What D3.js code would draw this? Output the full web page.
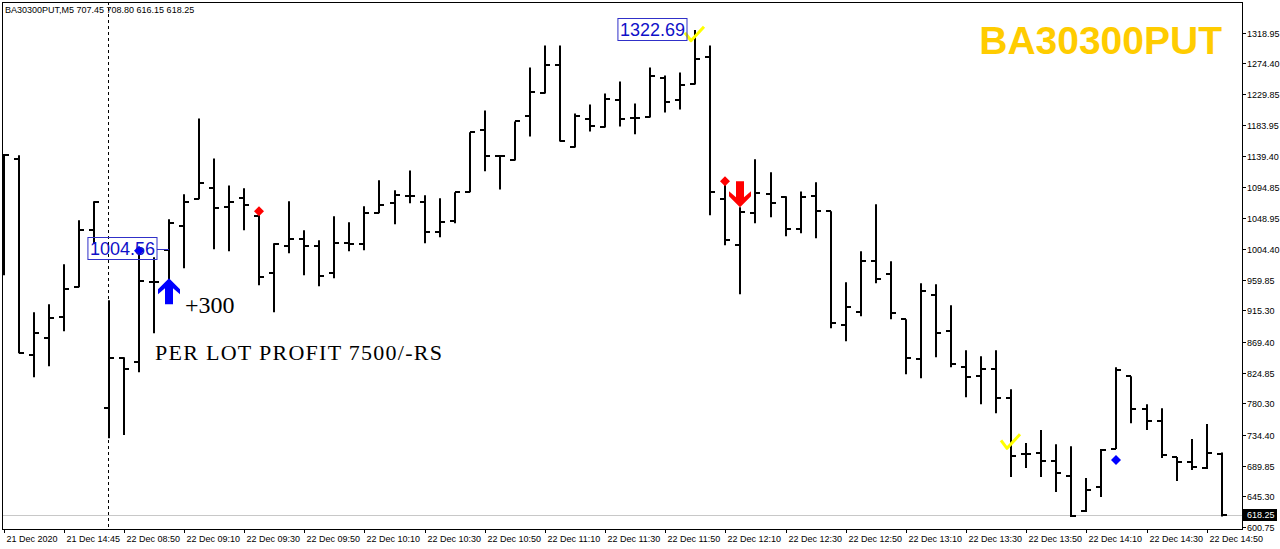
<!DOCTYPE html>
<html><head><meta charset="utf-8">
<script src="https://cdn.jsdelivr.net/npm/d3@7"></script>
<style>html,body{margin:0;padding:0;background:#fff;}svg{display:block;}</style>
</head><body>
<svg id="c" width="1280" height="549"></svg>
<script>
const symbol = "BA30300PUT";
const headerText = "BA30300PUT,M5  707.45 708.80 616.15 618.25";
const opens = [1140.5,1134.7,850.3,874.9,905.4,948.9,1031.7,773.4,845.9,840.1,
956.2,1002.6,1037.5,1076.6,1092.6,1065.0,1078.1,1052.0,969.3,1008.4,
1018.6,1008.4,969.3,1012.8,1011.3,1056.3,1070.8,1081.0,1072.3,1028.8,
1044.7,1086.8,1176.8,1139.0,1133.2,1197.1,1230.4,1271.1,1152.1,1192.7,
1181.1,1220.3,1194.2,1195.6,1252.2,1220.3,1243.5,1282.7,1076.6,1009.9,
1056.3,1083.9,1079.5,1033.1,1081.0,1059.2,893.8,912.7,986.7,967.8,
902.5,844.5,937.3,885.1,832.9,819.8,830.0,787.9,706.6,708.1,
696.5,674.7,623.9,658.7,713.9,819.8,771.9,754.5,702.3,695.0,
686.3,707.45];
const highs = [1140.5,1140.5,912.7,924.3,982.3,1046.2,1073.7,930.1,847.4,1002.0,
992.5,1047.6,1083.9,1194.2,1136.1,1096.9,1092.6,1057.8,1012.8,1073.7,
1031.7,1017.1,1052.0,1043.3,1066.5,1104.2,1089.7,1118.7,1082.4,1078.1,
1086.8,1173.9,1205.8,1140.5,1189.8,1268.2,1300.1,1300.1,1201.4,1214.5,
1230.4,1247.9,1215.9,1268.2,1256.6,1260.9,1322.69,1300.1,1099.9,1065.0,
1134.7,1115.8,1081.0,1088.2,1101.3,1059.2,956.2,1001.2,1069.4,986.7,
902.5,954.8,953.3,922.8,857.5,848.8,857.5,800.9,722.6,741.5,
721.1,718.2,671.8,713.9,832.9,819.8,779.2,773.4,702.3,728.4,
750.2,708.80];
const lows = [966.4,853.2,818.4,834.3,885.1,948.9,1012.0,729.8,734.2,825.6,
882.2,951.8,976.5,1076.6,1004.1,1001.2,1031.7,951.8,912.7,998.3,
966.4,950.4,962.0,1001.2,1002.6,1056.3,1040.4,1070.8,1012.8,1021.5,
1041.8,1086.8,1117.3,1091.1,1133.2,1168.0,1230.4,1160.8,1152.1,1175.3,
1181.1,1182.6,1171.0,1195.6,1202.9,1207.2,1243.5,1053.4,1009.9,938.8,
1041.8,1050.5,1022.9,1027.3,1020.0,889.5,870.6,906.9,954.8,902.5,
822.7,816.9,847.4,832.9,789.3,779.2,766.1,673.3,686.3,673.3,
651.5,615.2,622.5,644.2,713.9,751.6,741.5,700.8,667.5,683.4,
684.9,616.15];
const closes = [1140.5,853.2,882.2,904.0,946.0,1031.7,1072.3,845.9,830.0,957.7,
956.2,1041.8,1072.3,1099.9,1063.6,1072.3,1067.9,963.5,1011.3,1018.6,
1008.4,964.9,1012.8,1011.3,1056.3,1067.9,1082.4,1081.0,1028.8,1043.3,
1086.8,1173.9,1139.0,1139.0,1189.8,1231.9,1271.1,1160.8,1197.1,1182.6,
1221.7,1192.7,1194.2,1255.1,1217.4,1242.0,1279.8,1086.8,1017.1,1057.8,
1085.3,1070.8,1033.1,1079.5,1059.2,896.7,919.9,986.7,960.6,911.2,
845.9,943.1,882.2,837.2,818.4,830.0,787.9,703.7,706.6,696.5,
679.1,616.7,654.4,712.4,828.5,771.9,754.5,705.2,695.0,687.8,
708.1,618.25];
const timeLabels = ["21 Dec 2020","21 Dec 14:45","22 Dec 08:50","22 Dec 09:10","22 Dec 09:30","22 Dec 09:50","22 Dec 10:10","22 Dec 10:30","22 Dec 10:50","22 Dec 11:10","22 Dec 11:30","22 Dec 11:50","22 Dec 12:10","22 Dec 12:30","22 Dec 12:50","22 Dec 13:10","22 Dec 13:30","22 Dec 13:50","22 Dec 14:10","22 Dec 14:30","22 Dec 14:50"];
const timeLabelBars = [0,4,8,12,16,20,24,28,32,36,40,44,48,52,56,60,64,68,72,76,80];
const priceTicks = ["1318.95","1274.40","1229.85","1183.95","1139.40","1094.85","1048.95","1004.40","959.85","915.30","869.40","824.85","780.30","734.40","689.85","645.30","600.75"];
const lastPrice = 618.25;
const separatorBar = 6.95;
const diamondBars = [9, 17, 48, 74];
const diamondPrices = [1002.0, 1059.2, 1102.8, 697.9];
const diamondColors = ["#0000ff","#ff0000","#ff0000","#0000ff"];
const arrowBars = [11, 49];
const arrowPrices = [962, 1065];
const arrowDirs = ["up","down"];
const checkBars = [46, 67];
const checkPrices = [1307, 715];
const priceLabelText = ["1004.56","1322.69"];
const priceLabelValues = [1004.56, 1322.69];
const priceLabelBars = [9, 46];
const notes = ["+300", "PER LOT PROFIT 7500/-RS"];

const svg = d3.select("#c");
const L = 2, T = 2, R = 1242, B = 529;
const x = d3.scaleLinear().domain([0, 81]).range([3.5, 1221.7]);
const y = d3.scaleLinear().domain([600.75, 1318.95]).range([527, 32.5]);

svg.append("defs").append("clipPath").attr("id","clip")
  .append("rect").attr("x",L+1).attr("y",T+1).attr("width",R-L-1).attr("height",B-T-1);

// last price line
svg.append("line").attr("x1",L).attr("x2",R).attr("y1",Math.round(y(lastPrice))+0.5).attr("y2",Math.round(y(lastPrice))+0.5)
  .attr("stroke","#c8c8c8").attr("stroke-width",1);

// period separator
svg.append("line").attr("x1",Math.round(x(separatorBar))+0.5).attr("x2",Math.round(x(separatorBar))+0.5)
  .attr("y1",T).attr("y2",B).attr("stroke","#000").attr("stroke-width",1).attr("stroke-dasharray","3,3");

// OHLC bars
const g = svg.append("g").attr("clip-path","url(#clip)");
const idx = d3.range(opens.length);
g.selectAll("line.hl").data(idx).join("line").attr("class","hl")
  .attr("x1",i=>Math.round(x(i))).attr("x2",i=>Math.round(x(i)))
  .attr("y1",i=>y(highs[i])).attr("y2",i=>y(lows[i]))
  .attr("stroke","#000").attr("stroke-width",2);
g.selectAll("line.op").data(idx).join("line").attr("class","op")
  .attr("x1",i=>Math.round(x(i))-5).attr("x2",i=>Math.round(x(i)))
  .attr("y1",i=>Math.round(y(opens[i]))).attr("y2",i=>Math.round(y(opens[i])))
  .attr("stroke","#000").attr("stroke-width",2);
g.selectAll("line.cl").data(idx).join("line").attr("class","cl")
  .attr("x1",i=>Math.round(x(i))).attr("x2",i=>Math.round(x(i))+5)
  .attr("y1",i=>Math.round(y(closes[i]))).attr("y2",i=>Math.round(y(closes[i])))
  .attr("stroke","#000").attr("stroke-width",2);

// diamonds
diamondBars.forEach((b,k)=>{
  const cx = Math.round(x(b)), cy = y(diamondPrices[k]);
  svg.append("path").attr("d",`M${cx},${cy-5}L${cx+5},${cy}L${cx},${cy+5}L${cx-5},${cy}Z`).attr("fill",diamondColors[k]);
});

// arrows
arrowBars.forEach((b,k)=>{
  const cx = Math.round(x(b)), ty = y(arrowPrices[k]);
  const s = arrowDirs[k]==="up" ? 1 : -1;
  const pts = [[0,0],[11,11],[11,16],[4,10],[4,26],[-4,26],[-4,10],[-11,16],[-11,11]];
  const d = "M" + pts.map(p=>`${cx+p[0]},${ty+s*p[1]}`).join("L") + "Z";
  svg.append("path").attr("d",d).attr("fill",arrowDirs[k]==="up"?"#0000ff":"#ff0000");
});

// check marks
checkBars.forEach((b,k)=>{
  const cx = Math.round(x(b)) - 4, cy = y(checkPrices[k]);
  svg.append("path").attr("d",`M${cx-6},${cy-8}L${cx},${cy}L${cx+13},${cy-14}`)
    .attr("fill","none").attr("stroke","#ffff00").attr("stroke-width",3).attr("stroke-linejoin","round");
});

// price labels with boxes
const lblOffsets = [18, -8];
priceLabelText.forEach((t,k)=>{
  const rx = Math.round(x(priceLabelBars[k])) + lblOffsets[k];
  const cy = y(priceLabelValues[k]);
  const txt = svg.append("text").attr("x",rx-2).attr("y",cy).attr("dy","0.35em")
    .attr("text-anchor","end").attr("font-family","Liberation Sans, Arial, sans-serif")
    .attr("font-size",18).attr("fill","#1010c8").text(t);
  const bb = txt.node().getBBox();
  svg.insert("rect","text").attr("x",bb.x-2).attr("y",Math.round(cy)-11.5).attr("width",bb.width+4).attr("height",22)
    .attr("fill","none").attr("stroke","#3030c8").attr("stroke-width",1);
});
// connector line from 1004.56 label
svg.append("line").attr("x1",Math.round(x(9))+18).attr("x2",Math.round(x(11))).attr("y1",Math.round(y(1004.56))+0.5).attr("y2",Math.round(y(1004.56))+0.5)
  .attr("stroke","#3030c8").attr("stroke-width",1);

// notes
svg.append("text").attr("x",185).attr("y",313).attr("font-family","Liberation Serif, Times New Roman, serif")
  .attr("font-size",24).attr("fill","#000").text(notes[0]);
svg.append("text").attr("x",155).attr("y",360).attr("font-family","Liberation Serif, Times New Roman, serif")
  .attr("font-size",22).attr("textLength",287).attr("lengthAdjust","spacing").attr("fill","#000").text(notes[1]);

// title
svg.append("text").attr("x",1222).attr("y",54).attr("text-anchor","end")
  .attr("font-family","Liberation Sans, Arial, sans-serif").attr("font-weight","bold")
  .attr("font-size",39).attr("fill","#ffcc00").text(symbol);

// header
svg.append("text").attr("x",5).attr("y",13).attr("font-family","Liberation Sans, Arial, sans-serif")
  .attr("font-size",9).attr("fill","#000").text(headerText);

// frame
svg.append("rect").attr("x",L+0.5).attr("y",T+0.5).attr("width",R-L).attr("height",B-T)
  .attr("fill","none").attr("stroke","#000").attr("stroke-width",1);

// right axis
const ra = svg.append("g");
priceTicks.forEach(t=>{
  const yy = Math.round(y(+t))+0.5;
  ra.append("line").attr("x1",R).attr("x2",R+4).attr("y1",yy).attr("y2",yy).attr("stroke","#000");
  ra.append("text").attr("x",R+5).attr("y",yy).attr("dy","0.35em").attr("font-family","Liberation Sans, Arial, sans-serif")
    .attr("font-size",9).attr("fill","#000").text(t);
});
// last price box
const ly = Math.round(y(lastPrice));
ra.append("rect").attr("x",R+1).attr("y",ly-6).attr("width",34).attr("height",12).attr("fill","#000");
ra.append("text").attr("x",R+5).attr("y",ly).attr("dy","0.35em").attr("font-family","Liberation Sans, Arial, sans-serif")
  .attr("font-size",9).attr("fill","#fff").text(lastPrice.toFixed(2));

// bottom axis
const ba = svg.append("g");
timeLabels.forEach((t,k)=>{
  const xx = Math.round(x(timeLabelBars[k]))+0.5;
  ba.append("line").attr("x1",xx).attr("x2",xx).attr("y1",B).attr("y2",B+4).attr("stroke","#000");
  ba.append("text").attr("x",xx+2).attr("y",542).attr("font-family","Liberation Sans, Arial, sans-serif")
    .attr("font-size",9).attr("fill","#000").text(t);
});
</script>
</body></html>
